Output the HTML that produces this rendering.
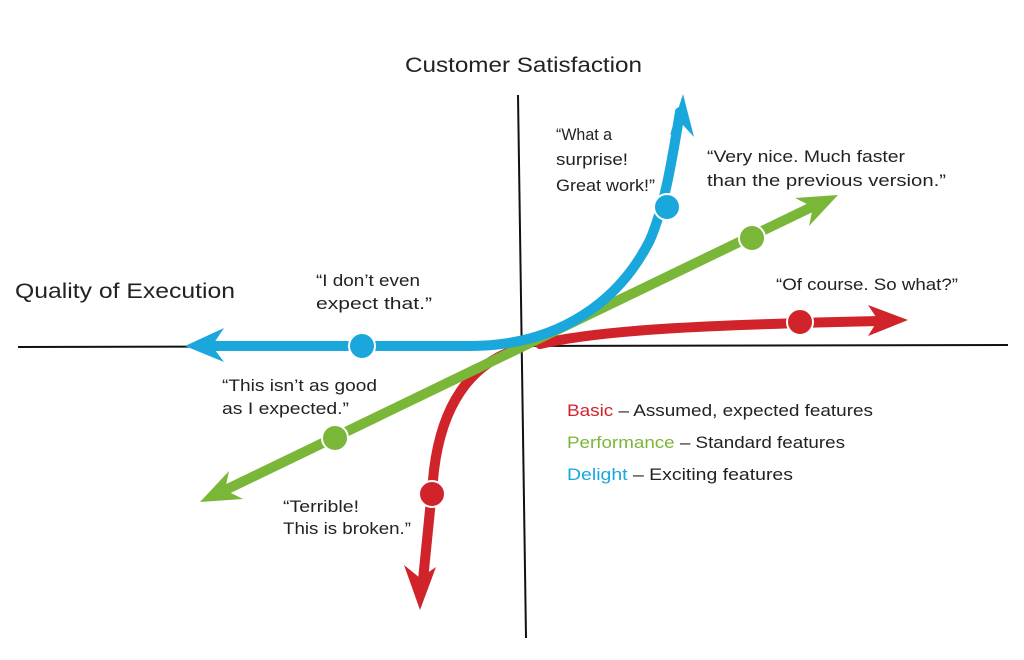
<!DOCTYPE html>
<html><head><meta charset="utf-8"><style>
html,body{margin:0;padding:0;background:#fff;width:1024px;height:660px;overflow:hidden}
text{font-family:"Liberation Sans",sans-serif;fill:#222}
</style></head><body>
<svg width="1024" height="660" viewBox="0 0 1024 660" xmlns="http://www.w3.org/2000/svg">
<line x1="18" y1="347" x2="1008" y2="345" stroke="#111" stroke-width="2"/>
<line x1="518" y1="95" x2="526" y2="638" stroke="#111" stroke-width="2"/>
<text x="405" y="72" font-size="21" textLength="237" lengthAdjust="spacingAndGlyphs">Customer Satisfaction</text>
<text x="15" y="298" font-size="21" textLength="220" lengthAdjust="spacingAndGlyphs">Quality of Execution</text>
<g fill="none" stroke-width="10" stroke-linecap="round">
<path d="M540 344 C600 330 700 325 880 321" stroke="#d1232a"/>
<path d="M515 350 C470 365 442 405 434 470 L422 590" stroke="#d1232a"/>
<path d="M215 495 L820 203" stroke="#7ab738"/>
<path d="M200 346 L470 346 C560 346 620 300 650 240 C665 205 672 160 680 112" stroke="#1aa7dc"/>
</g>
<polygon points="908,320 868,305 878,320 868,336" fill="#d1232a"/>
<polygon points="420,610 404,565 420,578 436,567" fill="#d1232a"/>
<polygon points="838,195 795,198 813,207 809,226" fill="#7ab738"/>
<polygon points="200,502 243,499 225,490 229,471" fill="#7ab738"/>
<polygon points="185,346 224,328 212,346 224,362" fill="#1aa7dc"/>
<polygon points="683,94 670,135 682,124 694,137" fill="#1aa7dc"/>
<g stroke="#fff" stroke-width="2">
<circle cx="800" cy="322" r="13" fill="#d1232a"/>
<circle cx="432" cy="494" r="13" fill="#d1232a"/>
<circle cx="752" cy="238" r="13" fill="#7ab738"/>
<circle cx="335" cy="438" r="13" fill="#7ab738"/>
<circle cx="362" cy="346" r="13" fill="#1aa7dc"/>
<circle cx="667" cy="207" r="13" fill="#1aa7dc"/>
</g>
<g font-size="17" lengthAdjust="spacingAndGlyphs">
<text x="556" y="140" textLength="56" lengthAdjust="spacingAndGlyphs">“What a</text>
<text x="556" y="165" textLength="72" lengthAdjust="spacingAndGlyphs">surprise!</text>
<text x="556" y="191" textLength="99" lengthAdjust="spacingAndGlyphs">Great work!”</text>
<text x="707" y="162" textLength="198" lengthAdjust="spacingAndGlyphs">“Very nice. Much faster</text>
<text x="707" y="186" textLength="239" lengthAdjust="spacingAndGlyphs">than the previous version.”</text>
<text x="776" y="290" textLength="182" lengthAdjust="spacingAndGlyphs">“Of course. So what?”</text>
<text x="316" y="286" textLength="104" lengthAdjust="spacingAndGlyphs">“I don’t even</text>
<text x="316" y="309" textLength="116" lengthAdjust="spacingAndGlyphs">expect that.”</text>
<text x="222" y="391" textLength="155" lengthAdjust="spacingAndGlyphs">“This isn’t as good</text>
<text x="222" y="414" textLength="127" lengthAdjust="spacingAndGlyphs">as I expected.”</text>
<text x="283" y="512" textLength="76" lengthAdjust="spacingAndGlyphs">“Terrible!</text>
<text x="283" y="534" textLength="128" lengthAdjust="spacingAndGlyphs">This is broken.”</text>
<text x="567" y="416" textLength="306" lengthAdjust="spacingAndGlyphs"><tspan fill="#d1232a">Basic</tspan> – Assumed, expected features</text>
<text x="567" y="448" textLength="278" lengthAdjust="spacingAndGlyphs"><tspan fill="#7ab738">Performance</tspan> – Standard features</text>
<text x="567" y="480" textLength="226" lengthAdjust="spacingAndGlyphs"><tspan fill="#1aa7dc">Delight</tspan> – Exciting features</text>
</g>
</svg>
</body></html>
